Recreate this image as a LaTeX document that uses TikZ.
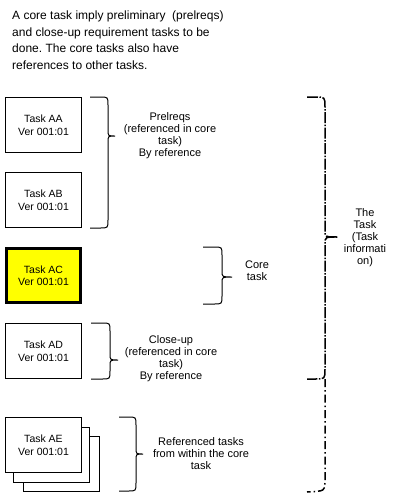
\documentclass[tikz,border=0pt]{standalone}
\usepackage{fontspec}
\setmainfont{Liberation Sans}
\frenchspacing
\definecolor{coreyellow}{RGB}{255,255,0}
% brace: style, x0, xspine, xtip, ytop, ytip, ybot, rcorner, rtip
\newcommand\tbrace[9]{%
\draw[#1] (#2,#5) -- ({#3-#8},#5) .. controls (#3,#5) .. (#3,{#5+#8})
  -- (#3,{#6-#9}) .. controls (#3,#6) .. (#4,#6) .. controls (#3,#6) .. (#3,{#6+#9})
  -- (#3,{#7-#8}) .. controls (#3,#7) .. ({#3-#8},#7) -- (#2,#7);}
\begin{document}
\begin{tikzpicture}[x=1pt,y=-1pt,
  taskbox/.style={draw, line width=1pt, minimum width=76pt, minimum height=55pt,
    inner sep=0pt, align=center, font=\fontsize{10.5}{12.5}\selectfont, fill=white},
  corebox/.style={taskbox, line width=3pt, fill=coreyellow, minimum width=74pt, minimum height=54pt},
  lbl/.style={align=center, font=\fontsize{11}{12}\selectfont, inner sep=0pt},
  brc/.style={line width=1pt},
  bigbrc/.style={line width=1.5pt, dash pattern=on 11pt off 1.5pt on 1.5pt off 1.5pt},
  extbrc/.style={line width=1.5pt, dash pattern=on 8pt off 3pt on 1.5pt off 3pt}]
\useasboundingbox (0,0) rectangle (406,496);

\node[anchor=north west, inner sep=0pt, align=left, font=\fontsize{12}{16.8}\selectfont]
  (intro) at (12,10.5) {A core task imply preliminary\ \ (prelreqs)\\and close-up requirement tasks to be\\done. The core tasks also have\\references to other tasks.};

\node[taskbox] (aa) at (43.5,125) {Task AA\\Ver 001:01};
\node[taskbox] (ab) at (43.5,200) {Task AB\\Ver 001:01};
\node[corebox] (ac) at (43.5,275.5) {Task AC\\Ver 001:01};
\node[taskbox] (ad) at (43.5,351) {Task AD\\Ver 001:01};
\node[taskbox] (ae3) at (61.5,464) {};
\node[taskbox] (ae2) at (51.5,455) {};
\node[taskbox] (ae) at (43.5,445) {Task AE\\Ver 001:01};

\tbrace{brc}{90}{108}{115}{97}{136}{228}{8}{6}
\tbrace{brc}{203}{222}{232}{247}{277}{304}{8}{6}
\tbrace{brc}{91}{110}{118}{323}{360}{379}{8}{6}
\tbrace{brc}{119}{136}{143}{417}{454}{491}{8}{6}

\tbrace{bigbrc}{307}{325}{338}{97}{237}{379}{10}{7}
\draw[extbrc] (325,379) -- (325,482) .. controls (325,491) .. (307,492);

\node[lbl] (pre) at (170,136) {Prelreqs\\(referenced in core\\task)\\By reference};
\node[lbl] (core) at (257,271) {Core\\task};
\node[lbl] (close) at (171,359) {Close-up\\(referenced in core\\task)\\By reference};
\node[lbl] (refd) at (201,454) {Referenced tasks\\from within the core\\task};
\node[lbl] (task) at (365,238) {The\\Task\\(Task\\informati\\on)};
\end{tikzpicture}
\end{document}
